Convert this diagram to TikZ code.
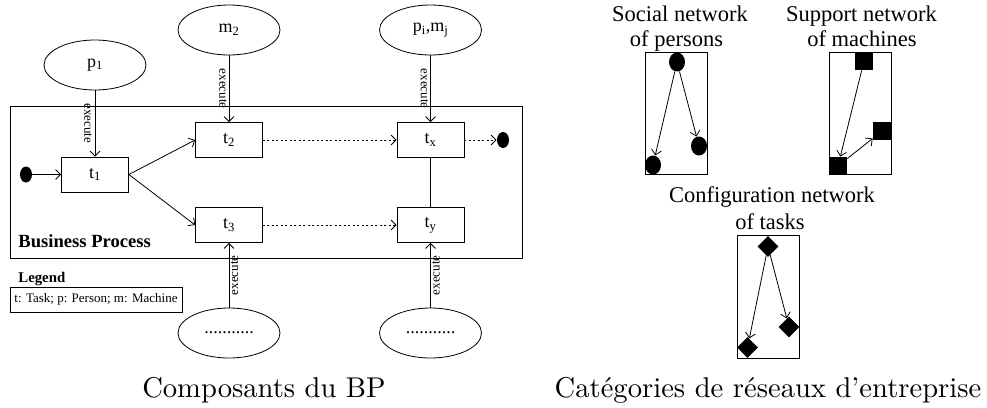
\documentclass[tikz,border=0pt]{standalone}
\usepackage{fontspec}
\newfontfamily\tms{Liberation Serif}
\newfontfamily\lmten{lmroman10-regular.otf}
\usetikzlibrary{shapes.geometric,arrows.meta}
\tikzset{
  ell/.style={draw, ellipse, minimum width=102pt, minimum height=50pt, inner sep=0pt, font=\tms\fontsize{18}{20}\selectfont},
  task/.style={draw, rectangle, minimum width=67pt, minimum height=35pt, inner sep=0pt, font=\tms\fontsize{18}{20}\selectfont},
  evdot/.style={fill, ellipse, minimum width=12pt, minimum height=16pt, inner sep=0pt},
  arr/.style={-{Straight Barb[length=5pt,width=10pt]}},
  dotl/.style={arr, dash pattern=on 2pt off 2.5pt},
  exe/.style={font=\tms\fontsize{13}{15}\selectfont, inner sep=0pt},
  lbl/.style={font=\tms\fontsize{22.5}{26}\selectfont, anchor=base, inner sep=0pt},
  captxt/.style={font=\lmten\fontsize{28.6}{32}\selectfont, anchor=base, inner sep=0pt},
  netbox/.style={draw, rectangle, minimum width=62pt, minimum height=122pt, inner sep=0pt},
  pers/.style={fill, ellipse, minimum width=16pt, minimum height=19pt, inner sep=0pt},
  mach/.style={fill, rectangle, minimum size=18pt, inner sep=0pt},
  tsk/.style={fill, diamond, minimum width=21pt, minimum height=21pt, inner sep=0pt},
}
\begin{document}
\begin{tikzpicture}[x=1pt, y=-1pt, line width=0.8pt]
\useasboundingbox (0,0) rectangle (987,407);
% Business process frame
\node[draw, minimum width=512pt, minimum height=152pt, inner sep=0pt] (bp) at (266,182) {};
\node[anchor=base west, inner sep=0pt, font=\tms\bfseries\fontsize{18.6}{20}\selectfont] (bpl) at (18,247) {Business Process};
% tasks
\node[task] (t1) at (95,174.5) {t\textsubscript{1}};
\node[task] (t2) at (229,140) {t\textsubscript{2}};
\node[task] (tx) at (430.5,140) {t\textsubscript{x}};
\node[task] (t3) at (229,225) {t\textsubscript{3}};
\node[task] (ty) at (430.5,225) {t\textsubscript{y}};
% resources
\node[ell] (p1) at (95,65) {p\textsubscript{1}};
\node[ell] (m2) at (229,30) {m\textsubscript{2}};
\node[ell] (pm) at (430.5,30) {p\textsubscript{i},m\textsubscript{j}};
\node[ell] (b1) at (229,333) {...........};
\node[ell] (b2) at (430.5,333) {...........};
% start / end
\node[evdot] (s) at (26,174.5) {};
\node[evdot] (e) at (503,140) {};
% connectors
\draw[arr] (s) -- (t1);
\draw[arr] (t1.east) -- (t2.west);
\draw[arr] (t1.east) -- (t3.west);
\draw[dotl] (t2) -- (tx);
\draw[dotl] (t3) -- (ty);
\draw[dotl] (tx) -- (e);
\draw (tx) -- (ty);
\draw[arr] (p1) -- node[xshift=-7pt, rotate=-90, exe] {execute} (t1);
\draw[arr] (m2) -- node[xshift=-6pt, rotate=-90, exe] {execute} (t2);
\draw[arr] (pm) -- node[xshift=-6pt, rotate=-90, exe] {execute} (tx);
\draw[arr] (b1) -- node[xshift=5.5pt, rotate=90, exe] {execute} (t3);
\draw[arr] (b2) -- node[xshift=5.5pt, rotate=90, exe] {execute} (ty);
% legend
\node[anchor=base west, inner sep=0pt, font=\tms\bfseries\fontsize{14.8}{16}\selectfont] (lg) at (18,282) {Legend};
\node[draw, minimum width=172pt, minimum height=25pt, inner sep=0pt, font=\tms\fontsize{13}{15}\selectfont] (lgb) at (96,299.5) {t: Task; p: Person; m: Machine};
% social network
\node[lbl] (sl1) at (680,21) {Social network};
\node[lbl] (sl2) at (676.5,46) {of persons};
\node[netbox] (sbx) at (676.5,113) {};
\node[pers] (sa) at (677,62) {};
\node[pers] (sb) at (653,165) {};
\node[pers] (sc) at (699,146) {};
\draw[arr] (sa) -- (sb);
\draw[arr] (sa) -- (sc);
% support network
\node[lbl] (ml1) at (861.5,21) {Support network};
\node[lbl] (ml2) at (862,46) {of machines};
\node[netbox] (mbx) at (860,113) {};
\node[mach] (ma) at (864,61) {};
\node[mach] (mb) at (838,166) {};
\node[mach] (mc) at (882,131) {};
\draw[arr] (ma) -- (mb);
\draw[arr] (mb) -- (mc);
% configuration network
\node[lbl] (cl1) at (772,202) {Configuration network};
\node[lbl] (cl2) at (770,229) {of tasks};
\node[netbox, minimum height=123pt] (cbx) at (768,296.5) {};
\node[tsk] (da) at (768,246.5) {};
\node[tsk] (db) at (747.5,347.5) {};
\node[tsk] (dc) at (789,327) {};
\draw[arr] (da) -- (db);
\draw[arr] (da) -- (dc);
% captions
\node[captxt] (c1) at (264,397) {Composants du BP};
\node[captxt] (c2) at (768,397) {Catégories de réseaux d’entreprise};
\end{tikzpicture}
\end{document}
